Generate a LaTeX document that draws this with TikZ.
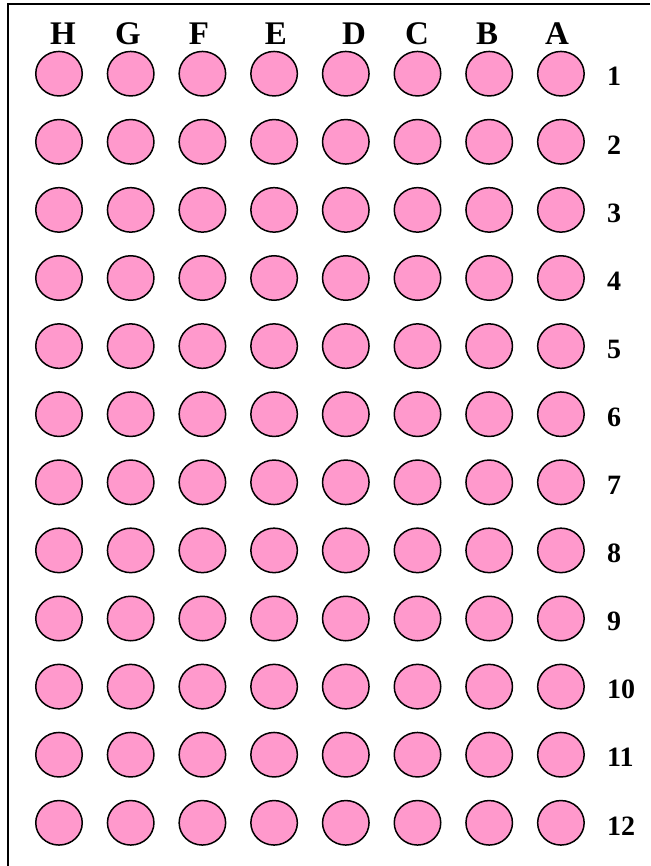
\documentclass[tikz,border=0pt]{standalone}
\usepackage{fontspec}
\setmainfont{Liberation Serif}
\usepackage{tikz}
\usetikzlibrary{shapes.geometric}
\definecolor{wellpink}{RGB}{255,153,204}

\begin{document}
\begin{tikzpicture}[x=1pt, y=-1pt,
    well/.style={draw, ellipse, line width=1.5pt, fill=wellpink,
        minimum width=46.5pt, minimum height=44.5pt, inner sep=0pt},
    collabel/.style={inner sep=0pt, font=\fontsize{33}{36}\selectfont\bfseries},
    rowlabel/.style={anchor=west, inner sep=0pt, font=\fontsize{28}{30}\selectfont\bfseries}]
        \useasboundingbox (0,0) rectangle (650,866);

        % Frame
        \draw[line width=2pt] (8,866) -- (8,4) -- (650,4);

        % Column letters
        \foreach \c/\x in {H/63, G/128, F/199, E/276, D/354, C/417, B/487, A/557}
            \node[collabel] (col\c) at (\x,33.5) {\c};

        % Wells and row numbers
        \foreach \r in {1,...,12}{
            \pgfmathsetmacro{\y}{73.7+(\r-1)*68.1}
            \foreach \c [count=\i] in {H,G,F,E,D,C,B,A}{
                \pgfmathsetmacro{\x}{59+(\i-1)*71.7}
                \node[well] (\c\r) at (\x,\y) {};
            }
            \node[rowlabel] (row\r) at (607,\y+3) {\r};
        }
    \end{tikzpicture}
\end{document}
